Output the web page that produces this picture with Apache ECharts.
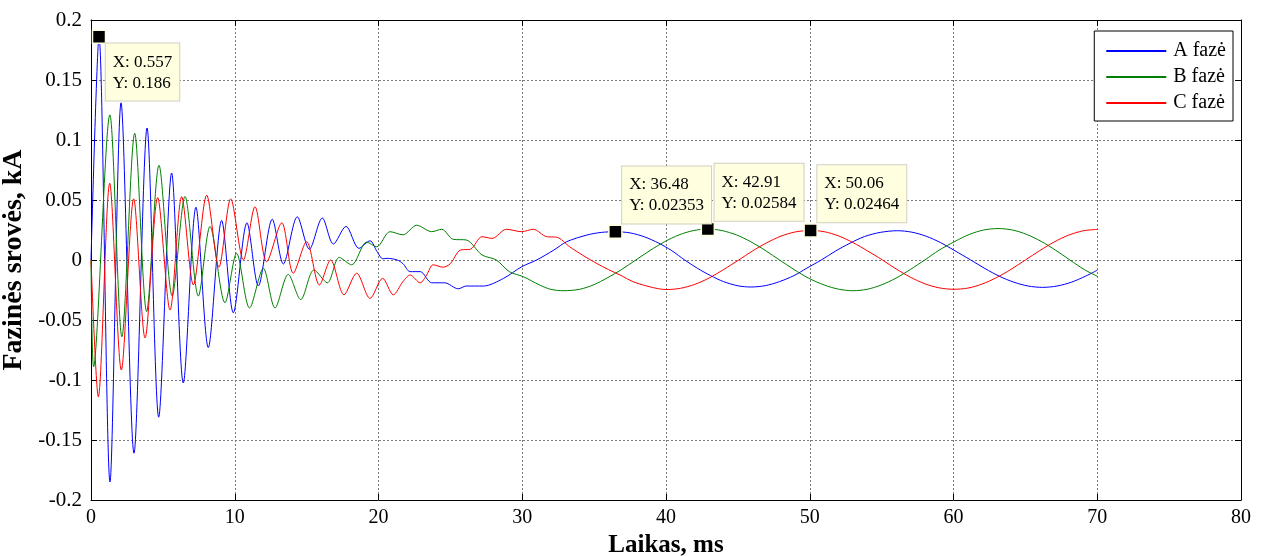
<!DOCTYPE html>
<html>
<head>
<meta charset="utf-8">
<script src="https://cdn.jsdelivr.net/npm/echarts@6/dist/echarts.min.js"></script>
<style>
  html, body { margin: 0; padding: 0; background: #fff; }
  #chart { width: 1267px; height: 556px; }
</style>
</head>
<body>
<div id="chart"></div>
<script>
// ---- data (time in ms, current in kA) ----
const seriesNames = ['A fazė', 'B fazė', 'C fazė'];
const xTickLabels = ['0', '10', '20', '30', '40', '50', '60', '70', '80'];
const yTickLabels = ['-0.2', '-0.15', '-0.1', '-0.05', '0', '0.05', '0.1', '0.15', '0.2'];

const tA = [0, 0.557, 1.32, 2.09, 2.99, 3.9, 4.71, 5.61, 6.42, 7.3, 8.16, 9.09, 9.9, 10.85, 11.64, 12.61, 13.38, 14.35, 15.19, 16.09, 16.86, 17.74, 18.64, 19.41, 19.9, 20.3, 20.6, 21.3, 21.7, 22.2, 22.9, 23.7, 24.6, 25.55, 26.1, 27.3, 28.7, 29.96, 31.0, 32.2, 33.1, 34.5, 35.5, 36.48, 37.5, 38.5, 39.5, 40.4, 41.3, 42.2, 43.1, 44.0, 45.0, 45.9, 46.9, 47.9, 48.9, 49.8, 50.8, 51.8, 52.8, 53.8, 54.9, 56.1, 57.1, 58.1, 59.1, 60.1, 61.2, 62.2, 63.2, 64.2, 65.2, 66.2, 67.2, 68.2, 69.2, 70.0];
const iA = [0, 0.186, -0.185, 0.131, -0.161, 0.11, -0.131, 0.0725, -0.1025, 0.044, -0.073, 0.033, -0.044, 0.031, -0.0217, 0.034, -0.0033, 0.036, 0.009, 0.035, 0.0133, 0.028, 0.0097, 0.016, 0.007, 0.001, 0.0014, 0.0, -0.003, -0.0097, -0.0097, -0.019, -0.019, -0.024, -0.0217, -0.0217, -0.0153, -0.0056, 0.0, 0.0083, 0.0153, 0.0208, 0.0230, 0.02353, 0.0226, 0.0193, 0.0140, 0.0078, 0.0, -0.0070, -0.0130, -0.0180, -0.0215, -0.0225, -0.0214, -0.0180, -0.0130, -0.0068, 0.0, 0.0075, 0.0140, 0.0195, 0.0230, 0.0244, 0.0232, 0.0198, 0.0145, 0.0077, 0.0, -0.0072, -0.0136, -0.0185, -0.0217, -0.0228, -0.0217, -0.0185, -0.0134, -0.0085];

const tB = [0, 0.18, 1.31, 2.15, 3.04, 3.87, 4.73, 5.65, 6.54, 7.47, 8.28, 9.32, 10.13, 11.03, 11.99, 12.8, 13.72, 14.59, 15.51, 16.44, 17.27, 18.13, 19.18, 19.87, 20.8, 21.7, 22.66, 23.7, 24.4, 25.2, 26.1, 27.2, 28.2, 29.1, 30.07, 31.2, 32.0, 32.9, 34.0, 35.0, 35.9, 36.9, 37.9, 38.9, 39.9, 40.9, 41.9, 42.91, 43.9, 44.9, 45.9, 46.9, 47.9, 48.9, 49.9, 51.0, 52.0, 53.0, 54.0, 55.0, 56.0, 57.0, 58.0, 59.0, 60.1, 61.1, 62.1, 63.1, 64.1, 65.1, 66.1, 67.1, 68.1, 69.1, 70.0];
const iB = [0, -0.089, 0.121, -0.064, 0.1056, -0.043, 0.079, -0.030, 0.053, -0.030, 0.028, -0.0356, 0.0056, -0.040, -0.007, -0.040, -0.012, -0.033, -0.0083, -0.019, 0.0022, -0.004, 0.015, 0.011, 0.0236, 0.021, 0.029, 0.0236, 0.0256, 0.0172, 0.0167, 0.0042, 0.0, -0.0097, -0.0139, -0.0208, -0.0245, -0.0256, -0.0244, -0.0205, -0.0150, -0.0080, 0.0, 0.0080, 0.0152, 0.0209, 0.0245, 0.02584, 0.0245, 0.0209, 0.0152, 0.0080, 0.0, -0.0079, -0.0150, -0.0208, -0.0243, -0.0256, -0.0244, -0.0207, -0.0151, -0.0079, 0.0, 0.0082, 0.0155, 0.0213, 0.0250, 0.0262, 0.0250, 0.0213, 0.0155, 0.0082, 0.0, -0.0080, -0.0135];

const tC = [0, 0.51, 1.3, 2.11, 2.97, 3.76, 4.64, 5.5, 6.31, 7.12, 8.05, 8.9, 9.72, 10.6, 11.41, 12.22, 13.27, 14.07, 15.0, 15.89, 16.67, 17.6, 18.48, 19.41, 20.29, 21.03, 21.7, 22.2, 22.9, 23.35, 23.8, 24.5, 25.0, 25.7, 26.4, 27.2, 27.9, 28.9, 29.96, 30.77, 31.7, 32.4, 33.3, 34.2, 35.2, 36.0, 36.8, 37.7, 38.66, 39.5, 40.06, 41.0, 42.0, 43.0, 44.0, 45.06, 46.0, 47.0, 48.0, 49.0, 50.06, 51.0, 52.0, 53.0, 54.0, 55.06, 56.0, 57.0, 58.0, 59.0, 60.0, 61.0, 62.0, 63.0, 64.0, 65.0, 66.0, 67.0, 68.0, 69.0, 70.0];
const iC = [0, -0.114, 0.064, -0.0917, 0.051, -0.065, 0.052, -0.0417, 0.0528, -0.0208, 0.054, -0.006, 0.051, 0.0, 0.0444, -0.0014, 0.031, -0.011, 0.0153, -0.0208, 0.0, -0.029, -0.011, -0.032, -0.0153, -0.029, -0.018, -0.0125, -0.019, -0.0125, -0.004, -0.006, -0.003, 0.0083, 0.009, 0.0194, 0.018, 0.0256, 0.0236, 0.0256, 0.0194, 0.019, 0.011, 0.004, -0.003, -0.008, -0.0125, -0.018, -0.0217, -0.0240, -0.0246, -0.0236, -0.0203, -0.0150, -0.0080, 0.0, 0.0074, 0.0143, 0.0199, 0.0234, 0.02464, 0.0236, 0.0201, 0.0146, 0.0077, 0.0, -0.0074, -0.0143, -0.0198, -0.0232, -0.0244, -0.0234, -0.0200, -0.0146, -0.0078, 0.0, 0.0078, 0.0150, 0.0207, 0.0243, 0.0255];

// data tips
const tipX = [0.557, 36.48, 42.91, 50.06];
const tipY = [0.186, 0.02353, 0.02584, 0.02464];
const tipBelow = [true, false, false, false];

// ---- build chart ----
const FONT = "'Liberation Serif', 'Times New Roman', serif";
const colors = ['#0000ff', '#008000', '#ff0000'];
const zip = (t, v) => t.map((x, i) => [x, v[i]]);
const dataSets = [zip(tA, iA), zip(tB, iB), zip(tC, iC)];

const lineSeries = seriesNames.map((name, k) => ({
  name: name,
  type: 'line',
  data: dataSets[k],
  symbol: 'none',
  showSymbol: false,
  smooth: 0.3,
  lineStyle: { color: colors[k], width: 1 },
  itemStyle: { color: colors[k] },
  xAxisIndex: 0,
  yAxisIndex: 0,
  z: 2 + k,
  silent: true
}));

const tipSeries = {
  name: 'tips',
  type: 'scatter',
  xAxisIndex: 0,
  yAxisIndex: 0,
  symbol: 'rect',
  symbolSize: 13,
  z: 10,
  itemStyle: { color: '#000', borderColor: '#ffffe0', borderWidth: 1.5, opacity: 1 },
  data: tipX.map((x, i) => ({
    value: [x, tipY[i]],
    label: {
      show: true,
      position: tipBelow[i] ? [14, 14] : [14, -1],
      align: 'left',
      verticalAlign: tipBelow[i] ? 'top' : 'bottom',
      formatter: 'X: ' + String(x) + '\nY: ' + String(tipY[i]),
      fontFamily: FONT,
      fontSize: 17,
      lineHeight: 21,
      color: '#000',
      backgroundColor: '#ffffe0',
      borderColor: '#cfcfc0',
      borderWidth: 1,
      padding: [8, 7, 7, 7]
    }
  })),
  silent: true
};

const axisLineStyle = { show: true, onZero: false, lineStyle: { color: '#000', width: 1 } };
const tickInside = { show: true, inside: true, length: 6, lineStyle: { color: '#000', width: 1 } };

const option = {
  animation: false,
  backgroundColor: '#fff',
  grid: { left: 91, right: 26, top: 20, bottom: 56, containLabel: false, outerBoundsMode: 'none' },
  legend: {
    data: seriesNames,
    orient: 'vertical',
    right: 34,
    top: 31,
    padding: [10, 7, 8, 12],
    itemGap: 6,
    itemWidth: 60,
    itemHeight: 2,
    icon: 'rect',
    selectedMode: false,
    borderColor: '#000',
    borderWidth: 1,
    backgroundColor: '#fff',
    textStyle: { fontFamily: FONT, fontSize: 20, color: '#000', padding: [0, 0, 0, 2] }
  },
  xAxis: [
    {
      type: 'value', position: 'bottom', min: 0, max: 80, interval: 10,
      axisLine: axisLineStyle, axisTick: tickInside,
      axisLabel: {
        margin: 8, fontFamily: FONT, fontSize: 20, color: '#000',
        formatter: v => xTickLabels[Math.round(v / 10)]
      },
      splitLine: { show: true, lineStyle: { color: '#7a7a7a', width: 1, type: [2, 2] } },
      name: 'Laikas, ms', nameLocation: 'middle', nameGap: 30,
      nameTextStyle: { fontFamily: FONT, fontSize: 25, fontWeight: 'bold', color: '#000' }
    },
    {
      type: 'value', position: 'top', min: 0, max: 80, interval: 10,
      axisLine: axisLineStyle, axisTick: tickInside,
      axisLabel: { show: false }, splitLine: { show: false }
    }
  ],
  yAxis: [
    {
      type: 'value', position: 'left', min: -0.2, max: 0.2, interval: 0.05,
      axisLine: axisLineStyle, axisTick: tickInside,
      axisLabel: {
        margin: 9, fontFamily: FONT, fontSize: 21, color: '#000',
        formatter: v => yTickLabels[Math.round((v + 0.2) / 0.05)]
      },
      splitLine: { show: true, lineStyle: { color: '#7a7a7a', width: 1, type: [2, 2] } },
      name: 'Fazinės srovės, kA', nameLocation: 'middle', nameGap: 56, nameRotate: 90,
      nameTextStyle: { fontFamily: FONT, fontSize: 28, fontWeight: 'bold', color: '#000' }
    },
    {
      type: 'value', position: 'right', min: -0.2, max: 0.2, interval: 0.05,
      axisLine: axisLineStyle, axisTick: tickInside,
      axisLabel: { show: false }, splitLine: { show: false }
    }
  ],
  series: [...lineSeries, tipSeries]
};

const chart = echarts.init(document.getElementById('chart'), null, { renderer: 'canvas' });
chart.setOption(option);
</script>
</body>
</html>
